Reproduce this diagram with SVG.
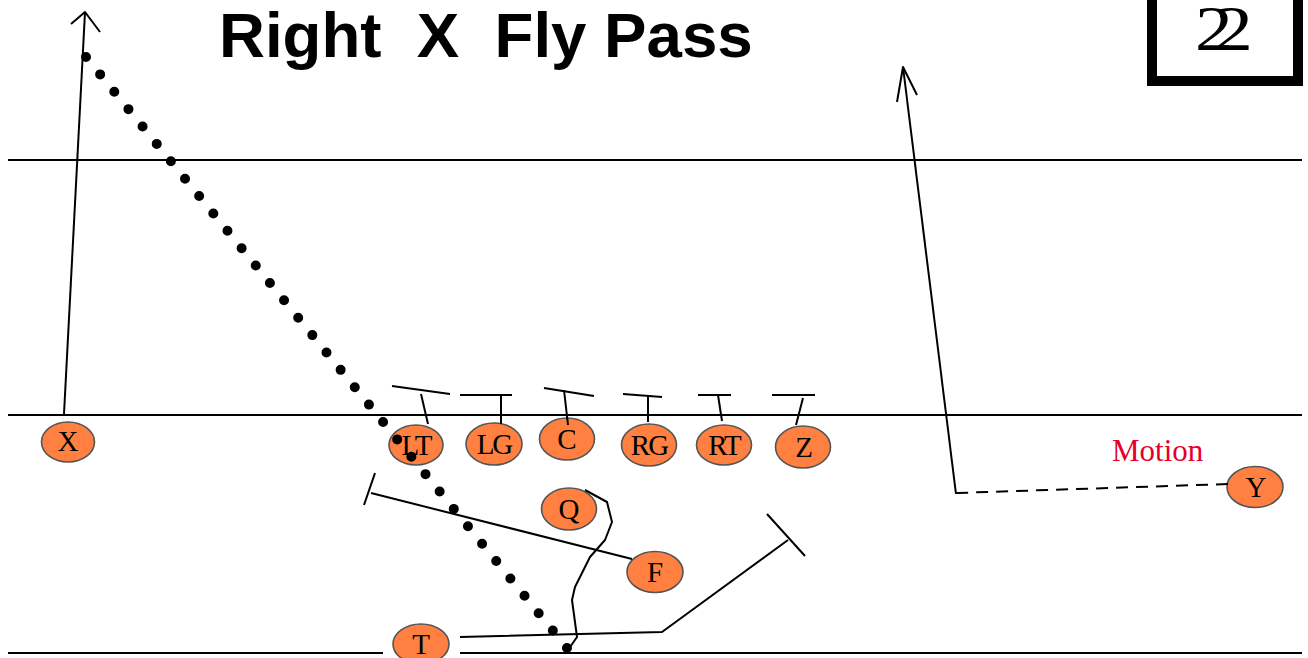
<svg xmlns="http://www.w3.org/2000/svg" width="1308" height="658" viewBox="0 0 1308 658">
<style>
.field{stroke:#000;stroke-width:2;fill:none}
.route{stroke:#000;stroke-width:2;fill:none;stroke-linejoin:round}
.player ellipse{fill:#FF8040;stroke:#555;stroke-width:1.6}
.player text{font-family:"Liberation Serif","Times New Roman",serif;font-size:29px;fill:#000;text-anchor:middle;letter-spacing:-2px}
.title{font-family:"Liberation Sans",Arial,sans-serif;font-weight:bold;font-size:63.6px;fill:#000}
</style>
<rect width="1308" height="658" fill="#fff"/>
<g id="field">
<line class="field" x1="8" y1="160" x2="1302" y2="160"/>
<line class="field" x1="8" y1="415" x2="1302" y2="415"/>
<line class="field" x1="8" y1="653" x2="383" y2="653"/>
<line class="field" x1="460" y1="653" x2="1302" y2="653"/>
</g>
<g id="title"><text class="title" x="219" y="57" xml:space="preserve">Right  X  Fly Pass</text></g>
<g id="play-number">
<rect x="1152" y="-10" width="146" height="91" fill="none" stroke="#000" stroke-width="10"/>
<text transform="translate(1195,50) scale(1.18,1)" font-family="Liberation Serif,'Times New Roman',serif" font-size="64" letter-spacing="-15">22</text>
</g>
<text x="1112" y="461" font-family="Liberation Serif,'Times New Roman',serif" font-size="31" fill="#E4002B">Motion</text>
<g id="X" class="player"><ellipse cx="68" cy="442" rx="26.5" ry="20"/><text x="67" y="451">X</text></g>
<g id="LT" class="player"><ellipse cx="416" cy="445" rx="27" ry="20"/><text x="416" y="455">LT</text></g>
<g id="LG" class="player"><ellipse cx="494" cy="444" rx="28" ry="21"/><text x="494" y="454">LG</text></g>
<g id="C" class="player"><ellipse cx="567" cy="439" rx="27.5" ry="21"/><text x="566" y="449">C</text></g>
<g id="RG" class="player"><ellipse cx="649" cy="445" rx="27.5" ry="21"/><text x="649" y="455">RG</text></g>
<g id="RT" class="player"><ellipse cx="724" cy="445" rx="27.5" ry="20"/><text x="724" y="455">RT</text></g>
<g id="Z" class="player"><ellipse cx="803" cy="447" rx="27.5" ry="21"/><text x="803" y="457">Z</text></g>
<g id="Q" class="player"><ellipse cx="569" cy="509" rx="27.5" ry="21"/><text x="568" y="519">Q</text></g>
<g id="F" class="player"><ellipse cx="655" cy="572" rx="28" ry="20.5"/><text x="654" y="582">F</text></g>
<g id="T" class="player"><ellipse cx="421" cy="644" rx="28" ry="20"/><text x="420" y="654">T</text></g>
<g id="Y" class="player"><ellipse cx="1255" cy="487" rx="28" ry="20.5"/><text x="1255" y="497">Y</text></g>
<g id="connectors">
<!-- X fly -->
<polyline class="route" points="64,414 85,12"/>
<polyline class="route" points="71,24 85,12 100,32"/>
<!-- pass dots -->
<line x1="86" y1="57" x2="567" y2="648" stroke="#000" stroke-width="10" stroke-linecap="round" stroke-dasharray="0 22.41"/>
<!-- line blocks -->
<line class="route" x1="392" y1="386" x2="450" y2="394"/><line class="route" x1="421" y1="394" x2="428" y2="424"/>
<line class="route" x1="460" y1="395" x2="512" y2="395"/><line class="route" x1="501" y1="395" x2="501" y2="424"/>
<line class="route" x1="544" y1="388" x2="594" y2="396"/><line class="route" x1="564" y1="390" x2="568" y2="425"/>
<line class="route" x1="623" y1="394" x2="662" y2="397"/><line class="route" x1="648" y1="395" x2="648" y2="422"/>
<line class="route" x1="698" y1="395" x2="731" y2="395"/><line class="route" x1="718" y1="395" x2="722" y2="421"/>
<line class="route" x1="772" y1="395" x2="815" y2="395"/><line class="route" x1="803" y1="398" x2="796" y2="425"/>
<!-- F block -->
<line class="route" x1="632" y1="559" x2="371" y2="493"/><line class="route" x1="375" y1="473" x2="364" y2="505"/>
<!-- T block -->
<polyline class="route" points="460,637 662,632 788,540"/><line class="route" x1="767" y1="514" x2="805" y2="556"/>
<!-- Q drop -->
<polyline class="route" points="585,490 607,502 612,522 605,540 590,557 575,587 572,600 577,637 568,650"/>
<!-- Y motion and fly -->
<line class="route" x1="1228" y1="484" x2="957" y2="493" stroke-dasharray="12 8"/>
<polyline class="route" points="956,494 903,67"/>
<polyline class="route" points="897,102 903,67 917,95"/>
</g>
</svg>
